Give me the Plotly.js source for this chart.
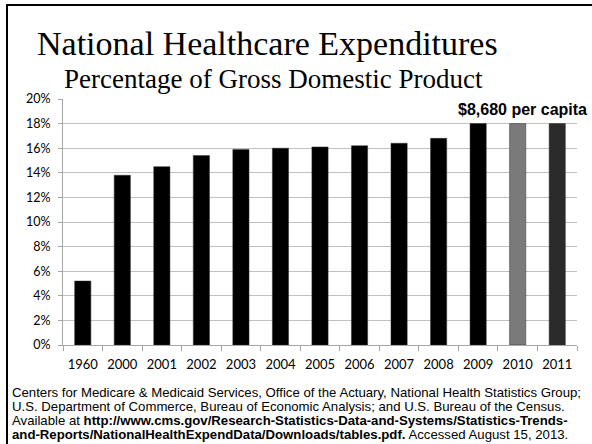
<!DOCTYPE html>
<html><head><meta charset="utf-8">
<script src="https://cdn.plot.ly/plotly-3.0.1.min.js"></script>
<style>
html,body{margin:0;padding:0;background:#fff;}
#frame{position:absolute;left:6px;top:4px;width:600px;height:460px;border-top:2px solid #000;border-left:2px solid #000;pointer-events:none;z-index:10;}
#chart{width:592px;height:444px;}
</style></head>
<body>
<div id="frame"></div>
<div id="chart"></div>
<script>
const years = ["1960","2000","2001","2002","2003","2004","2005","2006","2007","2008","2009","2010","2011"];
const gdpShare = [5.2,13.8,14.5,15.4,15.9,16.0,16.1,16.2,16.4,16.8,18.0,18.0,18.0];
const barColors = ["#000","#000","#000","#000","#000","#000","#000","#000","#000","#000","#000","#7a7a7a","#2a2a2a"];
const yTicks = [0,2,4,6,8,10,12,14,16,18,20];
const titleMain = "National Healthcare Expenditures";
const titleSub = "Percentage of Gross Domestic Product";
const perCapita = "$8,680 per capita";
const sourceLines = [
 "Centers for Medicare &amp; Medicaid Services, Office of the Actuary, National Health Statistics Group;",
 "U.S. Department of Commerce, Bureau of Economic Analysis; and U.S. Bureau of the Census.",
 "Available at <b>http://www.cms.gov/Research-Statistics-Data-and-Systems/Statistics-Trends-</b>",
 "<b>and-Reports/NationalHealthExpendData/Downloads/tables.pdf.</b> Accessed August 15, 2013."
];

const trace = {
  type: "bar",
  x: years,
  y: gdpShare,
  marker: {color: barColors, line: {color: "#333", width: 0.5}},
  width: 0.41,
  hoverinfo: "none"
};

const py = v => (345 - v) / 246;
const px = v => (v - 63) / 514;

const annotations = [
  {text: titleMain, xref:"paper", yref:"paper", x:px(267), y:py(43), yanchor:"middle", xanchor:"center", showarrow:false, font:{family:"Liberation Serif, serif", size:34, color:"#000"}},
  {text: titleSub, xref:"paper", yref:"paper", x:px(273), y:py(79), yanchor:"middle", xanchor:"center", showarrow:false, font:{family:"Liberation Serif, serif", size:27, color:"#000"}},
  {text: "<b>"+perCapita+"</b>", xref:"paper", yref:"paper", x:px(589), y:py(109), yanchor:"middle", xanchor:"right", showarrow:false, font:{family:"Liberation Sans, Arial, sans-serif", size:16, color:"#000"}}
];
sourceLines.forEach((t,i)=>{
  annotations.push({text:t, xref:"paper", yref:"paper", x:px(10), xanchor:"left", y:py(392+i*14), yanchor:"middle", showarrow:false, align:"left", font:{family:"Liberation Sans, Arial, sans-serif", size:13.2, color:"#000"}});
});

const layout = {
  width: 592, height: 444,
  margin: {l:63, r:15, t:99, b:99, pad:0},
  paper_bgcolor: "#fff", plot_bgcolor: "#fff",
  showlegend: false,
  bargap: 0.59,
  xaxis: {
    type:"category", tickson:"boundaries", ticks:"outside", ticklen:5, tickcolor:"#a6a6a6",
    showline:true, linecolor:"#a6a6a6", linewidth:1, showgrid:false, tickangle:0,
    ticklabelstandoff:7,
    tickfont:{family:"Lato, Open Sans, sans-serif", size:13, color:"#000"}, fixedrange:true
  },
  yaxis: {
    range:[0,20], tickvals:yTicks, ticktext:yTicks.map(v=>v+"%"),
    showgrid:true, gridcolor:"#c0c0c0", gridwidth:1,
    showline:true, linecolor:"#a6a6a6", ticks:"outside", ticklen:4, tickcolor:"#a6a6a6",
    ticklabelstandoff:5,
    tickfont:{family:"Lato, Open Sans, sans-serif", size:12.5, color:"#000"}, zeroline:false, fixedrange:true
  },
  annotations: annotations
};

Plotly.newPlot("chart", [trace], layout, {displayModeBar:false, staticPlot:true});
</script>
</body></html>
